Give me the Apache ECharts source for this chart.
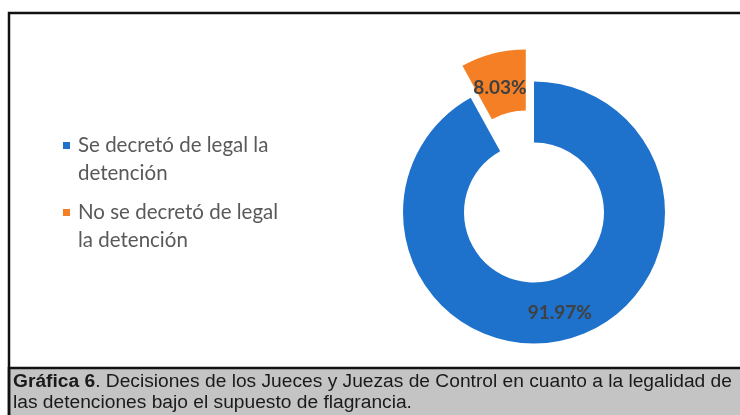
<!DOCTYPE html>
<html>
<head>
<meta charset="utf-8">
<script src="https://cdn.jsdelivr.net/npm/echarts@6/dist/echarts.min.js"></script>
<style>
    html, body { margin: 0; padding: 0; background: #fff; }
    #chart { width: 740px; height: 415px; }
</style>
</head>
<body>
<div id="chart"></div>
<script>
// datos de la gráfica
var categorias = ['Se decretó de legal la detención', 'No se decretó de legal la detención'];
var etiquetasLeyenda = ['Se decretó de legal la\ndetención', 'No se decretó de legal\nla detención'];
var porcentajes = [91.97, 8.03];
var colores = ['#1e72cc', '#f47f25'];
var tituloNegrita = 'Gráfica 6';
var tituloLinea1 = '. Decisiones de los Jueces y Juezas de Control en cuanto a la legalidad de';
var tituloLinea2 = 'las detenciones bajo el supuesto de flagrancia.';

var chart = echarts.init(document.getElementById('chart'));

var datos = categorias.map(function (nombre, i) {
    return {
        name: nombre,
        value: porcentajes[i],
        selected: i === 1,
        itemStyle: { color: colores[i] }
    };
});

var option = {
    backgroundColor: '#fff',
    animation: false,
    graphic: [
        {
            type: 'rect',
            shape: { x: 9, y: 13, width: 800, height: 450 },
            style: { fill: 'none', stroke: '#111', lineWidth: 2.5 },
            z: 10
        },
        {
            type: 'rect',
            shape: { x: 9, y: 368, width: 800, height: 80 },
            style: { fill: '#c4c4c4', stroke: '#111', lineWidth: 2.5 },
            z: 9
        }
    ],
    title: {
        left: 13,
        top: 371,
        padding: 0,
        text: '{b|' + tituloNegrita + '}{r|' + tituloLinea1 + '}\n{r|' + tituloLinea2 + '}',
        textStyle: {
            fontWeight: 'normal',
            rich: {
                b: { fontFamily: 'Liberation Sans', fontSize: 19.2, fontWeight: 'bold', color: '#1a1a1a', lineHeight: 21 },
                r: { fontFamily: 'Liberation Sans', fontSize: 19.2, fontWeight: 'normal', color: '#1a1a1a', lineHeight: 21 }
            }
        },
        z: 20
    },
    legend: {
        orient: 'vertical',
        left: 63,
        top: 103.5,
        padding: 0,
        itemGap: -17,
        itemWidth: 7,
        itemHeight: 7,
        icon: 'rect',
        selectedMode: false,
        data: categorias,
        // línea vacía arriba para que el cuadro quede junto a la primera línea
        formatter: function (nombre) {
            return '\n' + etiquetasLeyenda[categorias.indexOf(nombre)];
        },
        textStyle: {
            fontFamily: 'Lato',
            fontSize: 20.5,
            color: '#595959',
            lineHeight: 28,
            padding: [0, 0, 0, 3]
        }
    },
    series: [
        {
            type: 'pie',
            center: [534, 212.5],
            radius: [70, 131],
            startAngle: 90,
            clockwise: true,
            selectedMode: 'single',
            selectedOffset: 33,
            silent: true,
            label: {
                show: true,
                position: 'inside',
                fontFamily: 'Lato',
                fontSize: 19,
                fontWeight: 'bold',
                color: '#404040',
                formatter: function (p) {
                    return p.value.toFixed(2) + '%';
                }
            },
            // la etiqueta del sector separado va un poco más abajo en el original
            labelLayout: function (p) {
                return p.dataIndex === 1 ? { dy: 8 } : {};
            },
            labelLine: { show: false },
            data: datos
        }
    ]
};

chart.setOption(option);
</script>
</body>
</html>
